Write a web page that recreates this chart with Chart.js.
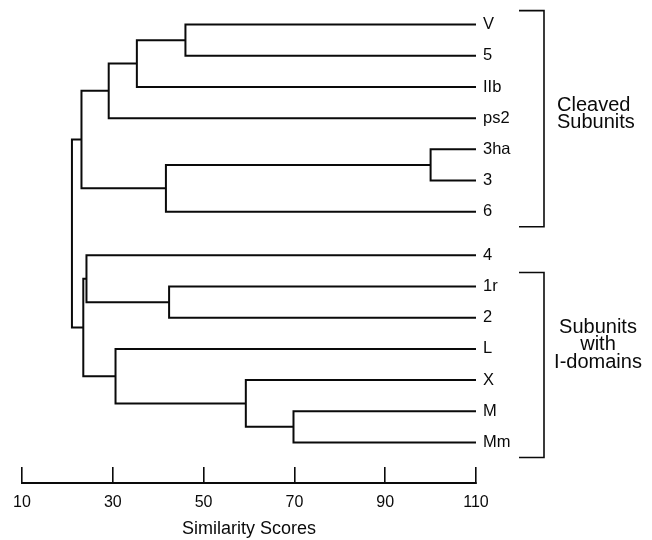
<!DOCTYPE html>
<html>
<head>
<meta charset="utf-8">
<script src="https://cdn.jsdelivr.net/npm/chart.js@4.4.1/dist/chart.umd.min.js"></script>
<style>
  html, body { margin: 0; padding: 0; background: #fff; }
  #wrap { width: 652px; height: 540px; }
</style>
</head>
<body>
<div id="wrap"><canvas id="dendroChart"></canvas></div>
<script>
// leaves, top to bottom
var leafNames = ['V', '5', 'IIb', 'ps2', '3ha', '3', '6', '4', '1r', '2', 'L', 'X', 'M', 'Mm'];

// merges in order; a child is a leaf name or 'n' + index of an earlier merge
var mergeLeft  = ['V', 'n0',  'n1',  '3ha', 'n3', 'n2', '1r', '4',  'M',  'X',  'L',  'n7',  'n5'];
var mergeRight = ['5', 'IIb', 'ps2', '3',   '6',  'n4', '2',  'n6', 'Mm', 'n8', 'n9', 'n10', 'n11'];
var mergeScore = [46, 35.3, 29.1, 100, 41.7, 23.1, 42.4, 24.2, 69.8, 59.3, 30.6, 23.5, 21.0];

var xTicks = [10, 30, 50, 70, 90, 110];
var leafScore = 110;

var groupNames = [['Cleaved', 'Subunits'], ['Subunits', 'with', 'I-domains']];
var groupFirst = ['V', '1r'];
var groupLast = ['6', 'Mm'];
var groupTextAt = ['ps2', 'L'];
var groupAlign = ['left', 'center'];

var FONT = "'Liberation Sans', Arial, Helvetica, sans-serif";
var INK = '#0a0a0a';

// rows: a little extra room after the first group
var gapBefore = leafNames.indexOf('4');
var leafRows = leafNames.map(function (n, i) { return i + (i >= gapBefore ? 0.4 : 0); });

function nodeY(id) {
    if (leafNames.indexOf(id) >= 0) return leafRows[leafNames.indexOf(id)];
    var k = +id.slice(1);
    return (nodeY(mergeLeft[k]) + nodeY(mergeRight[k])) / 2;
}
function nodeX(id) {
    if (leafNames.indexOf(id) >= 0) return leafScore;
    return mergeScore[+id.slice(1)];
}

var datasets = mergeScore.map(function (s, k) {
    var a = mergeLeft[k], b = mergeRight[k];
    return {
        data: [
            { x: nodeX(a), y: nodeY(a) },
            { x: s, y: nodeY(a) },
            { x: s, y: nodeY(b) },
            { x: nodeX(b), y: nodeY(b) }
        ],
        showLine: true,
        borderColor: INK,
        borderWidth: 2,
        pointRadius: 0,
        fill: false,
        tension: 0
    };
});

// brackets and group captions on the right
var bracketPlugin = {
    id: 'brackets',
    afterDraw: function (chart) {
        var ctx = chart.ctx, y = chart.scales.y, right = chart.chartArea.right;
        ctx.save();
        ctx.strokeStyle = INK;
        ctx.lineWidth = 1.6;
        ctx.fillStyle = INK;
        ctx.font = '20px ' + FONT;
        ctx.textBaseline = 'middle';
        groupNames.forEach(function (lines, g) {
            var y1 = y.getPixelForValue(nodeY(groupFirst[g])) - 14;
            var y2 = y.getPixelForValue(nodeY(groupLast[g])) + 15;
            var xb = right + 68;
            ctx.beginPath();
            ctx.moveTo(right + 43, y1);
            ctx.lineTo(xb, y1);
            ctx.lineTo(xb, y2);
            ctx.lineTo(right + 43, y2);
            ctx.stroke();
            var yc = y.getPixelForValue(nodeY(groupTextAt[g])) - 4;
            var lh = 17.5;
            ctx.textAlign = groupAlign[g];
            var tx = groupAlign[g] === 'left' ? right + 81 : right + 122;
            lines.forEach(function (t, i) {
                ctx.fillText(t, tx, yc + (i - (lines.length - 1) / 2) * lh);
            });
        });
        ctx.restore();
    }
};

var ctx = document.getElementById('dendroChart').getContext('2d');
new Chart(ctx, {
    type: 'scatter',
    data: { datasets: datasets },
    plugins: [bracketPlugin],
    options: {
        responsive: true,
        maintainAspectRatio: false,
        animation: false,
        layout: { padding: { left: 22, top: 9, right: 0, bottom: 0 } },
        plugins: {
            legend: { display: false },
            tooltip: { enabled: false }
        },
        scales: {
            x: {
                type: 'linear',
                min: 10,
                max: 110,
                afterBuildTicks: function (scale) {
                    scale.ticks = xTicks.map(function (v) { return { value: v }; });
                },
                afterFit: function (scale) {
                    scale.height = 57;
                    scale.paddingLeft = 0;
                    scale.paddingRight = 0;
                },
                grid: {
                    drawOnChartArea: false,
                    drawTicks: true,
                    tickLength: -16,
                    color: INK,
                    lineWidth: 1.6
                },
                border: { display: true, color: INK, width: 2 },
                ticks: {
                    color: INK,
                    padding: 26,
                    font: { family: FONT, size: 16 },
                    maxRotation: 0
                },
                title: {
                    display: true,
                    text: 'Similarity Scores',
                    color: INK,
                    font: { family: FONT, size: 18 },
                    padding: { top: 0, bottom: 0 }
                }
            },
            y: {
                type: 'linear',
                position: 'right',
                reverse: true,
                min: -0.5,
                max: 14.7,
                afterBuildTicks: function (scale) {
                    scale.ticks = leafRows.map(function (v) { return { value: v }; });
                },
                afterFit: function (scale) {
                    scale.width = 176;
                    scale.paddingTop = 0;
                    scale.paddingBottom = 0;
                },
                grid: { display: false, drawTicks: false },
                border: { display: false },
                ticks: {
                    autoSkip: false,
                    color: INK,
                    padding: 7,
                    font: { family: FONT, size: 16.5 },
                    callback: function (value, index) { return leafNames[index]; }
                }
            }
        }
    }
});
</script>
</body>
</html>
